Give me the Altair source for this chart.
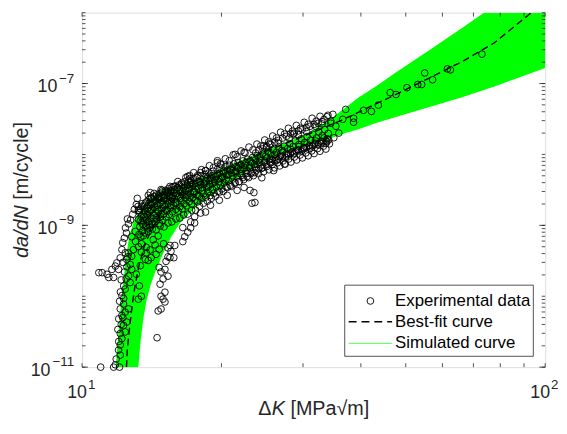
import altair as alt
import pandas as pd

FONT = "Liberation Sans"

# ---------------- data ----------------
# Experimental data, threshold region: [delta K (MPa sqrt m), da/dN (m/cycle)]
exp_threshold = [
    [11.80, 1.08e-11], [12.09, 1.48e-11], [11.99, 1.74e-11], [12.09, 2.05e-11], [12.19, 2.53e-11],
    [12.09, 2.98e-11], [12.39, 3.14e-11], [12.29, 3.88e-11], [12.49, 4.33e-11], [12.19, 5.35e-11],
    [12.39, 5.97e-11], [12.09, 6.63e-11], [12.60, 6.63e-11], [12.29, 7.78e-11], [12.19, 1.02e-10],
    [12.39, 1.26e-10], [12.70, 1.56e-10], [12.60, 1.93e-10], [12.80, 2.39e-10], [12.70, 2.81e-10],
    [12.49, 3.30e-10], [12.80, 3.67e-10], [12.60, 4.08e-10], [12.91, 4.54e-10], [12.19, 4.54e-10],
    [12.09, 3.48e-10], [11.89, 2.96e-10], [11.99, 2.39e-10], [11.80, 2.66e-10], [11.60, 2.39e-10],
    [11.32, 2.04e-10], [11.05, 2.15e-10], [10.87, 2.15e-10], [11.42, 1.84e-10], [11.70, 1.84e-10],
    [10.97, 1.0e-11], [11.70, 1.0e-11], [12.05, 1.0e-11],
    [11.85, 1.3e-11], [12.00, 2.3e-11], [11.95, 3.4e-11], [12.15, 4.0e-11], [12.00, 4.8e-11],
    [12.25, 5.0e-11], [12.05, 8.5e-11], [12.30, 9.3e-11], [12.10, 1.15e-10], [12.30, 1.4e-10],
    [12.15, 1.7e-10], [12.45, 1.75e-10], [12.35, 2.2e-10], [12.50, 2.6e-10], [12.25, 3.0e-10],
    [12.55, 3.6e-10], [12.40, 4.1e-10],
    [12.80, 6.9e-10], [13.05, 5.9e-10], [13.23, 5.0e-10], [13.43, 4.2e-10], [13.76, 4.1e-10],
    [14.03, 4.5e-10], [13.70, 3.3e-10], [13.36, 2.7e-10], [13.10, 2.05e-10], [13.30, 1.4e-10],
    [13.23, 9.1e-11], [13.43, 1.0e-10], [13.03, 8.2e-10], [13.56, 7.1e-10], [14.24, 6.26e-10],
    [14.60, 7.1e-10],
    [14.67, 2.55e-10], [14.81, 2.2e-10], [15.10, 2.39e-10], [15.33, 1.92e-10], [14.96, 1.75e-10],
    [14.74, 1.48e-10], [15.10, 1.14e-10], [14.81, 1.0e-10], [14.96, 9.1e-11], [15.10, 8.3e-11],
    [14.60, 6.2e-11], [14.81, 6.6e-11], [14.52, 2.6e-11], [15.33, 3.6e-10], [15.56, 4.3e-10],
    [15.48, 5.2e-10], [15.78, 3.5e-10], [15.18, 3.1e-10],
    [12.24, 5.7e-10], [12.34, 6.6e-10], [12.47, 7.8e-10], [12.41, 9.2e-10], [12.60, 1.05e-9],
    [12.53, 1.23e-9], [12.73, 1.19e-9], [12.86, 1.43e-9], [12.97, 1.68e-9], [13.10, 1.97e-9],
    [13.23, 1.64e-9], [13.16, 2.40e-9], [13.90, 2.65e-9], [14.03, 2.1e-9], [14.67, 2.45e-9],
    [15.33, 2.9e-9], [16.10, 3.4e-9], [16.91, 4.9e-9],
    [13.43, 5.5e-10], [13.76, 4.9e-10], [14.38, 5.3e-10], [14.45, 3.9e-10], [14.10, 3.5e-10],
    [13.90, 3.2e-10], [14.67, 4.6e-10], [15.00, 5.5e-10], [15.33, 4.8e-10],
    [14.03, 2.9e-9], [14.81, 3.2e-9], [15.56, 3.1e-9],
]

# Experimental data, dense band (13 - 34 MPa sqrt m)
exp_band_a = [
    [13.21, 1.85e-9], [13.24, 1.21e-9], [13.27, 7.4e-10], [13.30, 1.52e-9], [13.33, 9.6e-10],
    [13.37, 1.71e-9], [13.40, 6.9e-10], [13.42, 1.33e-9], [13.46, 1.08e-9], [13.49, 2.02e-9],
    [13.52, 8.4e-10], [13.55, 1.44e-9], [13.58, 1.16e-9], [13.62, 1.87e-9], [13.65, 7.8e-10],
    [13.68, 1.62e-9], [13.71, 1.27e-9], [13.74, 9.9e-10], [13.78, 2.15e-9], [13.81, 1.41e-9],
    [13.84, 8.9e-10], [13.88, 1.76e-9], [13.91, 1.13e-9], [13.95, 2.31e-9], [13.98, 1.55e-9],
    [14.02, 9.4e-10], [14.05, 1.94e-9], [14.08, 1.25e-9], [14.12, 2.42e-9], [14.15, 1.68e-9],
    [14.19, 1.04e-9], [14.22, 2.08e-9], [14.26, 1.37e-9], [14.30, 2.55e-9], [14.33, 1.79e-9],
    [14.37, 1.12e-9], [14.40, 2.22e-9], [14.44, 1.49e-9], [14.48, 2.68e-9], [14.52, 1.21e-9],
    [14.55, 1.92e-9], [14.59, 2.41e-9],
    [14.63, 1.58e-9], [14.67, 2.79e-9], [14.70, 1.06e-9], [14.74, 2.05e-9], [14.78, 1.33e-9],
    [14.82, 2.52e-9], [14.86, 1.72e-9], [14.90, 2.95e-9], [14.94, 1.18e-9], [14.98, 2.21e-9],
    [15.02, 1.46e-9], [15.06, 2.68e-9], [15.10, 1.88e-9], [15.14, 3.12e-9], [15.18, 1.31e-9],
    [15.22, 2.38e-9], [15.26, 1.62e-9], [15.30, 2.86e-9], [15.34, 2.04e-9], [15.38, 3.28e-9],
    [15.42, 1.42e-9], [15.47, 2.51e-9], [15.51, 1.77e-9], [15.55, 3.02e-9], [15.59, 2.19e-9],
    [15.63, 3.45e-9], [15.68, 1.55e-9], [15.72, 2.66e-9], [15.76, 1.93e-9], [15.81, 3.18e-9],
    [15.85, 2.34e-9], [15.89, 3.58e-9], [15.94, 1.68e-9], [15.98, 2.81e-9], [16.03, 2.08e-9],
    [16.07, 3.36e-9],
    [16.12, 1.59e-9], [16.17, 2.52e-9], [16.21, 3.72e-9], [16.26, 1.83e-9], [16.31, 2.97e-9],
    [16.36, 2.24e-9], [16.41, 3.95e-9], [16.46, 1.71e-9], [16.51, 2.69e-9], [16.56, 3.38e-9],
    [16.61, 2.02e-9], [16.66, 4.12e-9], [16.71, 2.43e-9], [16.76, 3.08e-9], [16.81, 1.88e-9],
    [16.87, 3.71e-9], [16.92, 2.61e-9], [16.97, 4.35e-9], [17.03, 2.15e-9], [17.08, 3.29e-9],
    [17.13, 2.84e-9], [17.19, 4.02e-9], [17.24, 1.99e-9], [17.30, 3.55e-9], [17.35, 2.48e-9],
    [17.41, 4.58e-9], [17.47, 3.02e-9], [17.52, 2.27e-9], [17.58, 3.88e-9], [17.64, 2.71e-9],
    [17.70, 4.76e-9], [17.76, 2.14e-9], [17.82, 3.34e-9], [17.88, 4.21e-9], [17.94, 2.56e-9],
    [18.00, 3.71e-9], [18.06, 4.95e-9], [18.12, 2.38e-9], [18.19, 3.12e-9], [18.25, 4.43e-9],
    [18.31, 2.79e-9], [18.38, 3.93e-9], [18.44, 5.21e-9], [18.51, 2.51e-9], [18.57, 3.42e-9],
    [18.64, 4.68e-9],
]
exp_band_b = [
    [18.71, 2.98e-9], [18.78, 5.48e-9], [18.85, 3.79e-9], [18.92, 2.64e-9], [18.99, 4.31e-9],
    [19.06, 5.02e-9], [19.13, 3.21e-9], [19.20, 5.79e-9], [19.28, 2.85e-9], [19.35, 4.06e-9],
    [19.42, 4.88e-9], [19.50, 3.49e-9], [19.57, 6.12e-9], [19.65, 3.03e-9], [19.73, 4.52e-9],
    [19.80, 5.41e-9], [19.88, 3.72e-9], [19.96, 6.43e-9], [20.04, 3.26e-9], [20.12, 4.84e-9],
    [20.21, 5.77e-9], [20.29, 3.95e-9], [20.37, 6.71e-9], [20.46, 3.48e-9], [20.54, 5.12e-9],
    [20.63, 6.03e-9], [20.72, 4.23e-9], [20.81, 7.05e-9], [20.90, 3.67e-9], [20.99, 5.48e-9],
    [21.08, 6.42e-9], [21.17, 4.51e-9], [21.26, 7.38e-9], [21.36, 3.91e-9], [21.45, 5.82e-9],
    [21.55, 6.78e-9], [21.64, 4.82e-9], [21.74, 7.71e-9], [21.84, 4.13e-9], [21.94, 6.11e-9],
    [22.04, 7.16e-9], [22.14, 5.08e-9], [22.25, 8.12e-9], [22.35, 4.42e-9], [22.46, 6.47e-9],
    [22.56, 7.58e-9], [22.67, 5.39e-9],
    [22.78, 8.55e-9], [22.89, 4.71e-9], [23.00, 6.85e-9], [23.11, 7.96e-9], [23.22, 5.66e-9],
    [23.34, 9.04e-9], [23.45, 5.02e-9], [23.57, 7.24e-9], [23.69, 8.41e-9], [23.80, 6.02e-9],
    [23.92, 9.61e-9], [24.04, 5.35e-9], [24.17, 7.68e-9], [24.29, 8.93e-9], [24.41, 6.38e-9],
    [24.54, 1.02e-8], [24.67, 5.71e-9], [24.80, 8.12e-9], [24.92, 9.48e-9], [25.06, 6.77e-9],
    [25.19, 1.09e-8], [25.32, 6.08e-9], [25.46, 8.61e-9], [25.59, 1.01e-8], [25.73, 7.19e-9],
    [25.87, 1.16e-8], [26.01, 6.47e-9], [26.15, 9.14e-9], [26.29, 1.07e-8], [26.43, 7.63e-9],
    [26.58, 1.23e-8], [26.72, 6.89e-9], [26.87, 9.72e-9], [27.02, 1.14e-8], [27.17, 8.11e-9],
    [27.32, 1.31e-8], [27.47, 7.32e-9], [27.62, 1.03e-8],
    [27.78, 1.21e-8], [27.93, 8.62e-9], [28.09, 1.42e-8], [28.25, 7.81e-9], [28.41, 1.09e-8],
    [28.57, 1.29e-8], [28.73, 9.18e-9], [28.89, 1.55e-8], [29.06, 8.36e-9], [29.22, 1.17e-8],
    [29.39, 1.38e-8], [29.56, 9.81e-9], [29.73, 1.66e-8], [29.90, 8.94e-9], [30.07, 1.25e-8],
    [30.25, 1.48e-8], [30.42, 1.05e-8], [30.60, 1.79e-8], [30.78, 9.58e-9], [30.96, 1.34e-8],
    [31.14, 1.59e-8], [31.32, 1.12e-8], [31.50, 1.93e-8], [31.69, 1.03e-8], [31.87, 1.44e-8],
    [32.06, 1.71e-8], [32.25, 1.21e-8], [32.44, 2.08e-8], [32.63, 1.11e-8], [32.82, 1.55e-8],
    [33.02, 1.84e-8], [33.21, 1.31e-8], [33.41, 2.24e-8], [33.61, 1.19e-8], [33.81, 1.67e-8],
    [34.01, 1.98e-8], [34.21, 1.41e-8],
    [30.50, 2.10e-8], [31.90, 2.50e-8], [33.00, 2.70e-8], [29.30, 1.90e-8], [28.00, 1.70e-8],
    [26.50, 1.45e-8], [25.00, 1.25e-8], [23.70, 1.05e-8],
]
exp_band_c = [
    [13.26, 1.62e-9], [13.35, 1.15e-9], [13.44, 1.86e-9], [13.53, 1.02e-9], [13.60, 1.32e-9],
    [13.70, 2.06e-9], [13.79, 1.19e-9], [13.86, 1.58e-9], [13.97, 1.02e-9], [14.06, 1.62e-9],
    [14.14, 1.98e-9], [14.24, 1.23e-9], [14.35, 2.02e-9], [14.46, 1.28e-9], [14.57, 1.66e-9],
    [14.69, 2.35e-9], [14.80, 1.47e-9], [14.92, 1.96e-9], [15.04, 2.44e-9], [15.16, 1.66e-9],
    [15.28, 2.21e-9], [15.40, 2.61e-9], [15.53, 1.92e-9], [15.66, 2.44e-9], [15.79, 2.86e-9],
    [15.92, 2.05e-9], [16.05, 2.61e-9], [16.19, 3.18e-9], [16.33, 2.41e-9], [16.48, 3.02e-9],
    [16.63, 3.58e-9], [16.78, 2.69e-9], [16.94, 3.31e-9], [17.10, 2.46e-9], [17.27, 3.81e-9],
    [17.44, 2.96e-9], [17.61, 3.49e-9], [17.79, 2.63e-9], [17.97, 4.08e-9],
    [18.15, 3.39e-9], [18.34, 3.81e-9], [18.53, 4.22e-9], [18.73, 3.52e-9], [18.93, 4.69e-9],
    [19.14, 3.86e-9], [19.35, 4.43e-9], [19.56, 5.16e-9], [19.78, 4.12e-9], [20.00, 4.71e-9],
    [20.23, 5.47e-9], [20.46, 4.46e-9], [20.69, 5.21e-9], [20.93, 6.01e-9], [21.17, 5.02e-9],
    [21.42, 5.67e-9], [21.67, 6.46e-9], [21.93, 5.36e-9], [22.19, 6.12e-9], [22.46, 7.02e-9],
    [22.73, 5.92e-9], [23.01, 6.41e-9], [23.29, 7.61e-9], [23.58, 6.61e-9], [23.87, 7.21e-9],
    [24.17, 8.31e-9], [24.47, 7.12e-9], [24.78, 7.72e-9], [25.10, 8.93e-9], [25.42, 7.82e-9],
    [25.75, 8.52e-9], [26.08, 9.92e-9], [26.42, 8.41e-9], [26.77, 9.32e-9], [27.12, 1.08e-8],
    [27.48, 9.12e-9], [27.85, 1.01e-8], [28.22, 1.18e-8], [28.60, 1.02e-8], [28.99, 1.12e-8],
    [29.38, 1.29e-8], [29.78, 1.11e-8], [30.19, 1.21e-8], [30.61, 1.41e-8], [31.04, 1.22e-8],
    [31.47, 1.32e-8], [31.91, 1.55e-8], [32.36, 1.36e-8], [32.82, 1.42e-8], [33.29, 1.71e-8],
    [33.77, 1.51e-8],
]
# upper rim of the dense band
exp_band_top = [
    [14.04, 2.45e-9], [14.31, 2.82e-9], [14.60, 2.56e-9], [14.89, 3.11e-9], [15.18, 3.01e-9],
    [15.48, 3.54e-9], [15.79, 3.54e-9], [16.10, 4.15e-9], [16.42, 3.77e-9], [16.75, 4.72e-9],
    [17.08, 4.57e-9], [17.42, 5.54e-9], [17.76, 5.04e-9], [18.11, 6.10e-9], [18.48, 5.91e-9],
    [18.84, 6.93e-9], [19.21, 6.50e-9], [19.60, 7.64e-9], [19.98, 7.16e-9], [20.39, 8.69e-9],
    [20.79, 8.15e-9], [21.20, 9.88e-9], [21.62, 9.27e-9], [22.05, 1.12e-8], [22.49, 1.05e-8],
    [22.93, 1.27e-8], [23.39, 1.16e-8], [23.85, 1.40e-8], [24.32, 1.32e-8], [24.80, 1.60e-8],
    [25.30, 1.50e-8], [25.80, 1.82e-8], [26.30, 1.71e-8], [26.83, 2.06e-8], [27.36, 1.94e-8],
    [27.90, 2.34e-8], [28.46, 2.13e-8], [29.02, 2.57e-8], [29.60, 2.34e-8], [30.18, 2.84e-8],
    [30.78, 2.66e-8], [31.39, 3.24e-8], [32.01, 2.94e-8], [32.65, 3.45e-8], [33.30, 3.13e-8],
    [33.96, 3.57e-8],
    [24.08, 1.15e-8], [25.05, 1.30e-8], [26.05, 1.48e-8], [27.10, 1.70e-8], [28.18, 1.95e-8],
    [29.31, 2.15e-8], [30.48, 2.40e-8], [31.69, 2.65e-8], [32.97, 2.90e-8], [24.56, 1.20e-8],
    [25.55, 1.38e-8], [26.57, 1.58e-8], [27.63, 1.80e-8], [28.73, 2.00e-8], [29.89, 2.25e-8],
    [31.08, 2.50e-8], [32.33, 2.75e-8],
]
# lower rim of the dense band
exp_band_bottom = [
    [13.90, 8.1e-10], [14.18, 8.9e-10], [14.45, 8.63e-10], [14.74, 9.8e-10], [15.03, 9.5e-10],
    [15.33, 1.08e-9], [15.63, 1.12e-9], [15.95, 1.23e-9], [16.26, 1.27e-9], [16.58, 1.40e-9],
    [16.91, 1.44e-9], [17.25, 1.64e-9], [17.59, 1.64e-9], [17.94, 1.86e-9], [18.29, 2.05e-9],
    [18.66, 2.19e-9], [19.03, 2.41e-9], [19.41, 2.57e-9], [19.79, 2.94e-9], [20.18, 3.01e-9],
    [20.58, 3.42e-9], [20.99, 3.54e-9], [21.41, 4.01e-9], [21.83, 4.15e-9], [22.26, 4.72e-9],
    [22.71, 4.88e-9], [23.16, 5.37e-9], [23.62, 5.54e-9], [24.08, 6.30e-9], [24.56, 6.50e-9],
    [25.05, 7.16e-9], [25.55, 7.64e-9], [26.05, 8.15e-9], [26.57, 8.69e-9], [27.09, 9.27e-9],
    [27.63, 9.57e-9], [28.18, 1.02e-8], [28.73, 1.05e-8], [29.31, 1.12e-8], [29.89, 1.16e-8],
    [30.48, 1.24e-8], [31.09, 1.28e-8], [31.69, 1.36e-8], [32.33, 1.40e-8], [32.97, 1.50e-8],
    [33.62, 1.55e-8],
]

# Experimental data, scattered points above / below the dense band
exp_outliers = [
    [17.08, 5.04e-9], [17.16, 4.29e-9], [18.03, 5.54e-9], [18.48, 5.91e-9], [19.60, 8.15e-9],
    [19.89, 7.4e-9], [21.41, 1.0e-8], [22.38, 1.07e-8], [24.68, 1.32e-8], [25.42, 1.41e-8],
    [28.59, 1.94e-8],
    [18.03, 1.49e-9], [18.48, 1.54e-9], [18.94, 1.92e-9], [19.79, 2.26e-9], [20.58, 2.65e-9],
    [21.62, 3.11e-9], [22.38, 3.42e-9], [23.05, 3.11e-9], [23.50, 2.90e-9], [23.27, 2.05e-9],
    [23.62, 2.10e-9], [24.44, 4.69e-9], [25.92, 5.91e-9], [27.36, 7.3e-9], [17.50, 1.32e-9],
    [17.16, 1.12e-9], [16.50, 9.3e-10], [15.86, 5.2e-10], [16.50, 5.9e-10], [16.66, 6.9e-10],
    [16.91, 8.0e-10], [17.16, 9.2e-10], [17.50, 1.08e-9], [15.48, 3.5e-10],
]

# Experimental data, Paris region
exp_paris = [
    [34.80, 3.68e-8], [34.45, 2.94e-8], [34.45, 2.76e-8], [35.84, 2.0e-8], [34.97, 1.72e-8],
    [33.62, 1.43e-8], [36.55, 3.13e-8], [37.09, 4.32e-8], [38.57, 3.24e-8], [38.57, 2.85e-8],
    [40.52, 4.19e-8], [42.15, 4.05e-8], [43.62, 4.97e-8], [46.27, 7.45e-8], [47.64, 7.0e-8],
    [50.29, 8.74e-8], [53.08, 9.7e-8], [54.13, 9.7e-8], [54.94, 1.41e-7], [57.13, 1.13e-7],
    [61.51, 1.61e-7], [62.42, 1.56e-7], [73.03, 2.60e-7], [35.32, 2.5e-8], [34.10, 1.6e-8],
    [33.80, 3.4e-8],
]

# Best-fit curve
fit_dk = [12.47, 12.53, 12.66, 12.84, 13.03, 13.29, 13.62, 14.10, 14.74, 15.71, 16.91,
          18.66, 21.10, 23.85, 27.63, 32.01, 37.09, 45.14, 55.76, 65.90, 77.45, 93.35]
fit_rate = [1.0e-11, 1.84e-11, 3.49e-11, 7.78e-11, 1.48e-10, 2.81e-10, 5.0e-10, 8.63e-10,
            1.40e-9, 2.26e-9, 3.32e-9, 4.72e-9, 6.93e-9, 9.87e-9, 1.45e-8, 2.13e-8, 3.23e-8,
            5.95e-8, 1.167e-7, 2.01e-7, 3.70e-7, 1.0e-6]

# Envelope of the simulated curves: at each delta K, lowest and highest da/dN
band_dk = [11.82, 11.93, 12.05, 12.17, 12.29, 12.47, 12.66, 12.97, 13.23, 13.36, 13.56, 13.76,
           14.04, 14.45, 14.96, 15.56, 16.34, 17.76, 19.31, 20.89, 22.71, 24.68, 26.70, 29.02,
           31.23, 33.62, 37.09, 39.54, 42.98, 47.41, 55.76, 65.90, 73.76, 77.45, 100.0]
band_hi = [1e-11, 2.16e-11, 4.81e-11, 9.14e-11, 1.74e-10, 3.87e-10, 7.35e-10, 1.19e-9,
           1.474e-9, 1.64e-9, 1.92e-9, 2.12e-9, 2.41e-9, 2.81e-9, 3.21e-9, 3.50e-9, 3.71e-9,
           4.57e-9, 5.72e-9, 7.17e-9, 8.97e-9, 1.12e-8, 1.36e-8, 1.70e-8, 2.13e-8, 2.84e-8,
           4.60e-8, 6.34e-8, 9.02e-8, 1.41e-7, 2.86e-7, 5.99e-7, 1e-6, 1e-6, 1e-6]
band_lo = [1e-11, 1e-11, 1e-11, 1e-11, 1e-11, 1e-11, 1e-11, 1e-11, 1e-11, 2.16e-11, 4.81e-11,
           8.30e-11, 1.39e-10, 2.39e-10, 4.00e-10, 6.80e-10, 1.12e-9, 1.92e-9, 2.83e-9,
           4.01e-9, 5.72e-9, 7.89e-9, 9.87e-9, 1.236e-8, 1.40e-8, 1.60e-8, 2.0e-8, 2.27e-8,
           2.755e-8, 3.34e-8, 4.59e-8, 6.34e-8, 8.12e-8, 9.02e-8, 1.66e-7]

# Axis ticks and labels
x_ticks = [10, 20, 30, 40, 50, 60, 70, 80, 90, 100]
y_decades = [-11, -10, -9, -8, -7]
y_ticks = [m * 10.0 ** e for e in y_decades for m in range(1, 10)] + [1e-6]
x_labels = [10, 100]
x_label_exp = ["1", "2"]
y_labels = [1e-11, 1e-9, 1e-7]
y_label_exp = ["\u221211", "\u22129", "\u22127"]
legend_items = ["Experimental data", "Best-fit curve", "Simulated curve"]

# ---------------- build tables ----------------
pts = (exp_threshold + exp_band_a + exp_band_b + exp_band_c + exp_band_top + exp_band_bottom
       + exp_outliers + exp_paris)
exp_df = pd.DataFrame(pts, columns=["dk", "rate"])
fit_df = pd.DataFrame({"dk": fit_dk, "rate": fit_rate})
band_df = pd.DataFrame({"dk": band_dk, "lo": band_lo, "hi": band_hi})
xt_df = pd.DataFrame({"v": x_ticks})
yt_df = pd.DataFrame({"v": y_ticks})
ytm_df = pd.DataFrame({"v": y_labels})
xl_df = pd.DataFrame({"v": x_labels, "base": ["10", "10"], "exp": x_label_exp})
yl_df = pd.DataFrame({"v": y_labels, "base": ["10"] * 3, "exp": y_label_exp, "bx": [-32, -25, -25]})
one = pd.DataFrame({"a": [0]})

W, H = 469, 359
xs = alt.Scale(type="log", domain=[10, 100], nice=False)
ys = alt.Scale(type="log", domain=[1e-11, 1e-6], nice=False)
GRID = "#dcdcdc"
AX = "#262626"

x_axis = alt.Axis(values=x_ticks, grid=True, gridColor=GRID, gridWidth=1, labels=False,
                  ticks=False, domain=False, title=None)
y_axis = alt.Axis(values=y_ticks, grid=True, gridColor=GRID, gridWidth=1, labels=False,
                  ticks=False, domain=False, title=None)

band = alt.Chart(band_df).mark_area(color="#00ff00", opacity=1, clip=True).encode(
    x=alt.X("dk:Q", scale=xs, axis=x_axis),
    y=alt.Y("lo:Q", scale=ys, axis=y_axis),
    y2="hi:Q",
)

fit = alt.Chart(fit_df).mark_line(color="black", strokeDash=[7, 4], strokeWidth=1.4).encode(
    x=alt.X("dk:Q", scale=xs, axis=None), y=alt.Y("rate:Q", scale=ys, axis=None))

pts_layer = alt.Chart(exp_df).mark_point(shape="circle", filled=False, color="black", size=46,
                                         strokeWidth=0.9, opacity=1).encode(
    x=alt.X("dk:Q", scale=xs, axis=None), y=alt.Y("rate:Q", scale=ys, axis=None))

# inward ticks
tick_kw = dict(color=AX, strokeWidth=0.8)
ytl = alt.Chart(yt_df).mark_rule(**tick_kw).encode(
    y=alt.Y("v:Q", scale=ys, axis=None), x=alt.value(0), x2=alt.value(3.5))
ytr = alt.Chart(yt_df).mark_rule(**tick_kw).encode(
    y=alt.Y("v:Q", scale=ys, axis=None), x=alt.value(W), x2=alt.value(W - 3.5))
ytlm = alt.Chart(ytm_df).mark_rule(**tick_kw).encode(
    y=alt.Y("v:Q", scale=ys, axis=None), x=alt.value(0), x2=alt.value(6))
ytrm = alt.Chart(ytm_df).mark_rule(**tick_kw).encode(
    y=alt.Y("v:Q", scale=ys, axis=None), x=alt.value(W), x2=alt.value(W - 6))
xtb = alt.Chart(xt_df).mark_rule(**tick_kw).encode(
    x=alt.X("v:Q", scale=xs, axis=None), y=alt.value(H), y2=alt.value(H - 4))
xtt = alt.Chart(xt_df).mark_rule(**tick_kw).encode(
    x=alt.X("v:Q", scale=xs, axis=None), y=alt.value(0), y2=alt.value(4))

# tick labels
xl_base = alt.Chart(xl_df).mark_text(align="right", baseline="middle", dx=5, fontSize=18,
                                     font=FONT, color=AX).encode(
    x=alt.X("v:Q", scale=xs, axis=None), y=alt.value(H + 26), text="base:N")
xl_exp = alt.Chart(xl_df).mark_text(align="left", baseline="middle", dx=6, fontSize=13.5,
                                    font=FONT, color=AX).encode(
    x=alt.X("v:Q", scale=xs, axis=None), y=alt.value(H + 18), text="exp:N")
yl_base = alt.Chart(yl_df).mark_text(align="right", baseline="middle", dy=4, fontSize=18,
                                     font=FONT, color=AX).encode(
    x=alt.X("bx:Q", scale=None), y=alt.Y("v:Q", scale=ys, axis=None), text="base:N")
yl_exp = alt.Chart(yl_df).mark_text(align="right", baseline="middle", dy=-5, fontSize=13.5,
                                    font=FONT, color=AX).encode(
    x=alt.value(-8), y=alt.Y("v:Q", scale=ys, axis=None), text="exp:N")

# axis titles
TY = H + 42
t_kw = dict(baseline="middle", fontSize=20, font=FONT, color=AX, align="left")
xt1 = alt.Chart(one).mark_text(text="\u0394", **t_kw).encode(x=alt.value(178.5), y=alt.value(TY))
xt2 = alt.Chart(one).mark_text(text="K", fontStyle="italic", **t_kw).encode(x=alt.value(192), y=alt.value(TY))
xt3 = alt.Chart(one).mark_text(text="[MPa\u221am]", **t_kw).encode(x=alt.value(211), y=alt.value(TY))
yt1 = alt.Chart(one).mark_text(text="da/dN", fontStyle="italic", angle=270, **t_kw).encode(
    x=alt.value(-61), y=alt.value(248.5))
yt2 = alt.Chart(one).mark_text(text="[m/cycle]", angle=270, **t_kw).encode(
    x=alt.value(-61), y=alt.value(189.5))

# legend
lg_box = alt.Chart(one).mark_rect(fill="white", stroke=AX, strokeWidth=0.8).encode(
    x=alt.value(266), x2=alt.value(457), y=alt.value(276), y2=alt.value(348))
lg_pt = alt.Chart(one).mark_point(shape="circle", filled=False, color="black", size=46,
                                  strokeWidth=0.9, opacity=1).encode(x=alt.value(292), y=alt.value(292))
lg_fit = alt.Chart(one).mark_rule(color="black", strokeDash=[8, 5], strokeWidth=1.4).encode(
    x=alt.value(270), x2=alt.value(314), y=alt.value(313))
lg_sim = alt.Chart(one).mark_rule(color="#6dff6d", strokeWidth=1.2).encode(
    x=alt.value(270), x2=alt.value(314), y=alt.value(335))
lg_kw = dict(align="left", baseline="middle", fontSize=17, font=FONT, color="black")
lg_t1 = alt.Chart(one).mark_text(text=legend_items[0], **lg_kw).encode(x=alt.value(317), y=alt.value(292))
lg_t2 = alt.Chart(one).mark_text(text=legend_items[1], **lg_kw).encode(x=alt.value(317), y=alt.value(313))
lg_t3 = alt.Chart(one).mark_text(text=legend_items[2], **lg_kw).encode(x=alt.value(317), y=alt.value(335))

chart = alt.layer(
    band, fit, pts_layer, ytl, ytr, ytlm, ytrm, xtb, xtt,
    xl_base, xl_exp, yl_base, yl_exp, xt1, xt2, xt3, yt1, yt2,
    lg_box, lg_pt, lg_fit, lg_sim, lg_t1, lg_t2, lg_t3,
).properties(
    width=W, height=H,
    autosize=alt.AutoSizeParams(type="none"),
    padding={"left": 75, "top": 2, "right": 14, "bottom": 65},
).configure_view(stroke=AX, strokeWidth=0.8).configure(background="white")

chart.save("out.html", embed_options={"renderer": "svg", "actions": False})
